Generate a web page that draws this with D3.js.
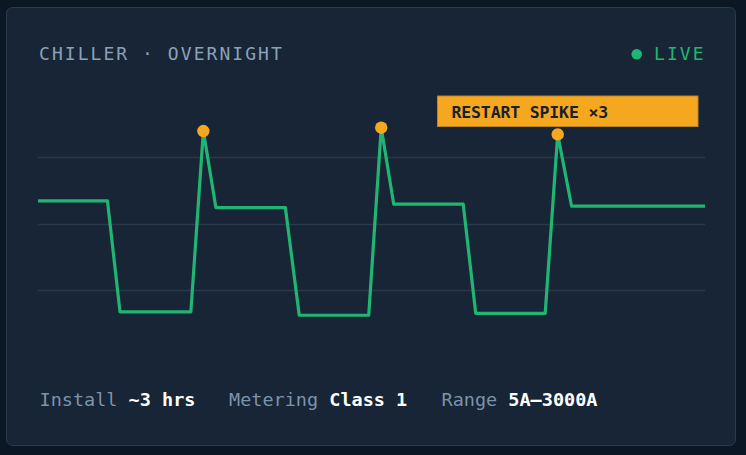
<!DOCTYPE html>
<html>
<head>
<meta charset="utf-8">
<script src="https://cdn.jsdelivr.net/npm/d3@7"></script>
<style>
  html, body { margin: 0; padding: 0; background: #0c1726; }
  svg { display: block; }
</style>
</head>
<body>
<svg id="chart" width="746" height="455"></svg>
<script>
// ---- data ----
const minutes = [0, 50, 59, 110, 119, 128, 178, 188, 238, 247, 256, 306, 315, 365, 374, 384, 480];
const amps    = [234, 234, 67, 67, 339, 224, 224, 62, 62, 344, 229, 229, 65, 65, 334, 226, 226];
const spikeIdx = [4, 9, 14];
const gridValues = [100, 200, 300];
const titleText = "CHILLER · OVERNIGHT";
const liveText = "LIVE";
const annotationText = "RESTART SPIKE ×3";
const footerLabels = ["Install", "Metering", "Range"];
const footerValues = ["~3 hrs", "Class 1", "5A–3000A"];

// ---- layout ----
const W = 746, H = 455;
const mono = "'DejaVu Sans Mono', 'Liberation Mono', monospace";
const svg = d3.select("#chart");

svg.append("rect").attr("width", W).attr("height", H).attr("fill", "#0c1726");
svg.append("rect")
  .attr("x", 6.5).attr("y", 7.5).attr("width", 729).attr("height", 438)
  .attr("rx", 6).attr("fill", "#172536").attr("stroke", "#2b3b4e").attr("stroke-width", 1);

const x = d3.scaleLinear().domain([0, 480]).range([38, 705]);
const y = d3.scaleLinear().domain([0, 400]).range([356.5, 90.5]);

// title
svg.append("text")
  .attr("x", 39).attr("y", 60)
  .attr("font-family", mono).attr("font-size", 18)
  .attr("letter-spacing", 2.05)
  .attr("fill", "#8aa1b9")
  .text(titleText);

// live
svg.append("circle").attr("cx", 636.7).attr("cy", 54.3).attr("r", 5.3).attr("fill", "#21b573");
svg.append("text")
  .attr("x", 654).attr("y", 60)
  .attr("font-family", mono).attr("font-size", 18)
  .attr("letter-spacing", 2.05)
  .attr("fill", "#21b573")
  .text(liveText);

// gridlines
svg.append("g").selectAll("line").data(gridValues).join("line")
  .attr("x1", x.range()[0]).attr("x2", x.range()[1])
  .attr("y1", d => Math.round(y(d)) + 0.5).attr("y2", d => Math.round(y(d)) + 0.5)
  .attr("stroke", "#293949").attr("stroke-width", 1.5);

// line
const pts = minutes.map((m, i) => [m, amps[i]]);
const line = d3.line().x(d => x(d[0])).y(d => y(d[1]));
svg.append("path")
  .datum(pts)
  .attr("d", line)
  .attr("fill", "none")
  .attr("stroke", "#21b573")
  .attr("stroke-width", 3.2)
  .attr("stroke-linejoin", "round");

// spike dots
svg.append("g").selectAll("circle").data(spikeIdx).join("circle")
  .attr("cx", i => x(minutes[i])).attr("cy", i => y(amps[i]))
  .attr("r", 6.2).attr("fill", "#f5a81f");

// annotation
const annRight = x.range()[1] - 7;
const annW = 260.5, annH = 30.5;
const ann = svg.append("g").attr("transform", `translate(${annRight - annW},${96})`);
ann.append("rect").attr("width", annW).attr("height", annH)
  .attr("fill", "#f5a81f").attr("stroke", "#b98424").attr("stroke-width", 1);
ann.append("text")
  .attr("x", 14).attr("y", 22.3)
  .attr("font-family", mono).attr("font-size", 16.5).attr("font-weight", "bold")
  .attr("letter-spacing", -0.15)
  .attr("fill", "#16212f")
  .text(annotationText);

// footer
const footerX = [39.5, 229, 441.5];
const footer = svg.append("g").attr("font-family", mono).attr("font-size", 18.5);
footerLabels.forEach((lab, i) => {
  const t = footer.append("text").attr("x", footerX[i]).attr("y", 406);
  t.append("tspan").attr("fill", "#7d93ab").text(lab + " ");
  t.append("tspan").attr("fill", "#ffffff").attr("font-weight", "bold").text(footerValues[i]);
});
</script>
</body>
</html>
